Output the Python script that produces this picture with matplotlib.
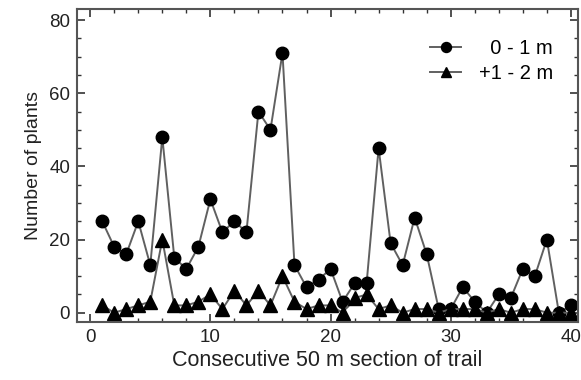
import matplotlib
matplotlib.use("Agg")
import matplotlib.pyplot as plt
from matplotlib.ticker import MultipleLocator

plt.rcParams['font.family'] = ['Liberation Sans', 'DejaVu Sans']

sections = list(range(1, 41))
near_0_1 = [25, 18, 16, 25, 13, 48, 15, 12, 18, 31,
            22, 25, 22, 55, 50, 71, 13, 7, 9, 12,
            3, 8, 8, 45, 19, 13, 26, 16, 1, 1,
            7, 3, 0, 5, 4, 12, 10, 20, 0, 2]
far_1_2 = [2, 0, 1, 2, 3, 20, 2, 2, 3, 5,
           1, 6, 2, 6, 2, 10, 3, 1, 2, 2,
           0, 4, 5, 1, 2, 0, 1, 1, 0, 1,
           1, 1, 0, 1, 0, 1, 1, 0, 0, 0]
labels = ["  0 - 1 m", "+1 - 2 m"]

fig = plt.figure(figsize=(5.81, 3.80), dpi=100)
ax = fig.add_axes([0.1325, 0.153, 0.995 - 0.1325, 0.976 - 0.153])

line_color = '#606060'
ax.plot(sections, near_0_1, color=line_color, lw=1.4, marker='o', ms=9,
        mfc='black', mec='black', label=labels[0])
ax.plot(sections, far_1_2, color=line_color, lw=1.4, marker='^', ms=9.5,
        mfc='black', mec='black', label=labels[1])

ax.set_xlim(-1.1, 40.6)
ax.set_ylim(-2.5, 83)
ax.xaxis.set_major_locator(MultipleLocator(10))
ax.xaxis.set_minor_locator(MultipleLocator(2))
ax.yaxis.set_major_locator(MultipleLocator(20))
ax.yaxis.set_minor_locator(MultipleLocator(5))
ax.tick_params(which='both', direction='in', top=True, right=True,
               labelsize=13.5, colors='#333333', labelcolor='#222222')
ax.tick_params(which='major', length=6, width=1.2, pad=5)
ax.tick_params(which='minor', length=3, width=1.0)
for s in ax.spines.values():
    s.set_color('#555555')
    s.set_linewidth(1.5)

ax.set_xlabel('Consecutive 50 m section of trail', fontsize=15.5, color='#222222', labelpad=3)
ax.set_ylabel('Number of plants', fontsize=14, color='#222222', labelpad=5)

leg = ax.legend(loc='upper right', bbox_to_anchor=(0.966, 0.931), frameon=False,
                fontsize=14.5, handlelength=1.5, handletextpad=0.9,
                labelspacing=0.3, borderaxespad=0, markerscale=0.8)

fig.savefig('out.png', dpi=100)
